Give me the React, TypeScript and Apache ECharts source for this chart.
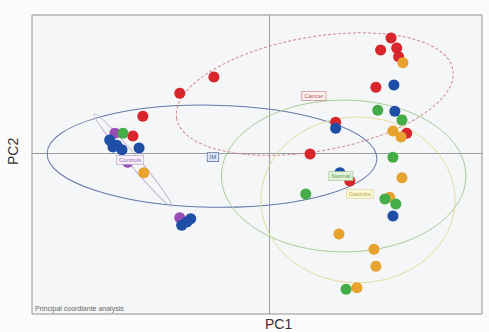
import React, { useEffect, useRef } from "react";
import * as echarts from "echarts";

// Sample scores on the first two principal coordinates, by group
const cancerPts: number[][] = [
  [-0.188, 0.130], [-0.116, 0.165], [-0.266, 0.080], [-0.287, 0.037],
  [0.258, 0.250], [0.236, 0.224], [0.270, 0.228], [0.274, 0.209],
  [0.226, 0.143], [0.291, 0.043], [0.141, 0.067], [0.087, -0.002],
  [0.171, -0.061],
];
const gastritisPts: number[][] = [
  [0.283, 0.196], [0.262, 0.048], [0.279, 0.035], [0.281, -0.054],
  [0.255, -0.096], [0.148, -0.176], [0.222, -0.209], [0.226, -0.246],
  [0.186, -0.293], [-0.264, -0.043],
];
const controlPts: number[][] = [
  [-0.325, 0.043], [-0.188, -0.141], [-0.298, -0.020],
];
const normalPts: number[][] = [
  [0.230, 0.093], [0.281, 0.072], [0.262, -0.009], [0.078, -0.089],
  [0.245, -0.100], [0.268, -0.111], [0.163, -0.296], [-0.308, 0.043],
];
const imPts: number[][] = [
  [0.264, 0.148], [0.266, 0.091], [0.141, 0.054], [0.150, -0.043],
  [0.262, -0.137], [-0.336, 0.028], [-0.321, 0.017], [-0.310, 0.007],
  [-0.329, 0.013], [-0.274, 0.011], [-0.184, -0.157], [-0.165, -0.143],
  [-0.173, -0.150],
];

// Group ellipses: [centre x, centre y, radius x, radius y, rotation deg]
const groupNames = ["Cancer", "IM", "Normal", "Gastritis", "Controls"];
const ellipses: number[][] = [
  [0.097, 0.128, 0.296, 0.124, 10],
  [-0.120, -0.007, 0.348, 0.111, -1],
  [0.158, -0.050, 0.258, 0.165, 0],
  [0.188, -0.102, 0.205, 0.180, 0],
  [-0.287, -0.015, 0.127, 0.011, -50],
];
// Group label anchors: [x, y]
const labelPos: number[][] = [
  [0.095, 0.124],
  [-0.118, -0.009],
  [0.152, -0.050],
  [0.192, -0.089],
  [-0.293, -0.015],
];

const pointColors = {
  cancer: "#d8262c",
  gastritis: "#e8a22e",
  control: "#9a4db3",
  normal: "#43ad48",
  im: "#1f4ea6",
};
const ellipseColors = ["#d08a8a", "#6379a8", "#a9cc9a", "#e2dc9e", "#c2b4d0"];
const ellipseDash = [[3, 2], "solid", "solid", "solid", "solid"];
const labelFills = ["#fdf3f1", "#dfe7f4", "#e2f2da", "#fcf7d6", "#f8f0fb"];
const labelText = ["#b55454", "#40609a", "#5c9a4a", "#b9a94a", "#9a6ab0"];

export default function App() {
  const ref = useRef<HTMLDivElement>(null);
  useEffect(() => {
    if (!ref.current) return;
    const chart = echarts.init(ref.current, undefined, { renderer: "svg" });
    const scatter = (data: number[][], color: string) => ({
      type: "scatter",
      data,
      symbolSize: 11,
      itemStyle: { color, opacity: 1 },
      z: 3,
    });
    chart.setOption({
      animation: false,
      backgroundColor: "#fbfbfc",
      grid: {
        left: 32,
        top: 15,
        width: 450,
        height: 299,
        show: true,
        borderColor: "#8f9196",
        borderWidth: 1,
        backgroundColor: "#f5f6f8",
      },
      xAxis: {
        type: "value",
        min: -0.5,
        max: 0.45,
        axisLine: { show: true, onZero: true, lineStyle: { color: "#9a9ca0", width: 1 } },
        axisTick: { show: false },
        axisLabel: { show: false },
        splitLine: { show: false },
      },
      yAxis: {
        type: "value",
        min: -0.35,
        max: 0.3,
        axisLine: { show: true, onZero: true, lineStyle: { color: "#9a9ca0", width: 1 } },
        axisTick: { show: false },
        axisLabel: { show: false },
        splitLine: { show: false },
      },
      graphic: [
        {
          type: "text",
          left: 265,
          top: 317,
          style: { text: "PC1", fontSize: 14, fill: "#333", fontFamily: "Liberation Sans" },
        },
        {
          type: "text",
          x: 6,
          y: 165,
          rotation: Math.PI / 2,
          style: { text: "PC2", fontSize: 14, fill: "#333", fontFamily: "Liberation Sans" },
        },
        {
          type: "text",
          left: 35,
          top: 305,
          style: { text: "Principal coordiante analysis", fontSize: 7, fill: "#666", fontFamily: "Liberation Sans" },
        },
      ],
      series: [
        {
          type: "custom",
          z: 1,
          data: ellipses,
          renderItem: (params: any, api: any) => {
            const i = params.dataIndex;
            const c = api.coord([api.value(0), api.value(1)]);
            const rx = api.size([api.value(2), 0])[0];
            const ry = api.size([0, api.value(3)])[1];
            const rot = (api.value(4) * Math.PI) / 180;
            return {
              type: "ellipse",
              x: c[0],
              y: c[1],
              rotation: rot,
              shape: { cx: 0, cy: 0, rx, ry },
              style: {
                fill: "none",
                stroke: ellipseColors[i],
                lineWidth: 1,
                lineDash: ellipseDash[i],
              },
            };
          },
        },
        scatter(cancerPts, pointColors.cancer),
        scatter(gastritisPts, pointColors.gastritis),
        scatter(controlPts, pointColors.control),
        scatter(normalPts, pointColors.normal),
        scatter(imPts, pointColors.im),
        {
          type: "custom",
          z: 6,
          data: labelPos,
          renderItem: (params: any, api: any) => {
            const i = params.dataIndex;
            const c = api.coord([api.value(0), api.value(1)]);
            return {
              type: "text",
              x: c[0],
              y: c[1],
              style: {
                text: groupNames[i],
                fontSize: 6,
                fontFamily: "Liberation Sans",
                fill: labelText[i],
                align: "center",
                verticalAlign: "middle",
                backgroundColor: labelFills[i],
                borderColor: ellipseColors[i],
                borderWidth: 0.8,
                padding: [1, 2],
              },
            };
          },
        },
      ],
    });
    return () => chart.dispose();
  }, []);
  return (
    <div
      ref={ref}
      style={{ position: "fixed", left: 0, top: 0, width: 489, height: 332 }}
    />
  );
}
